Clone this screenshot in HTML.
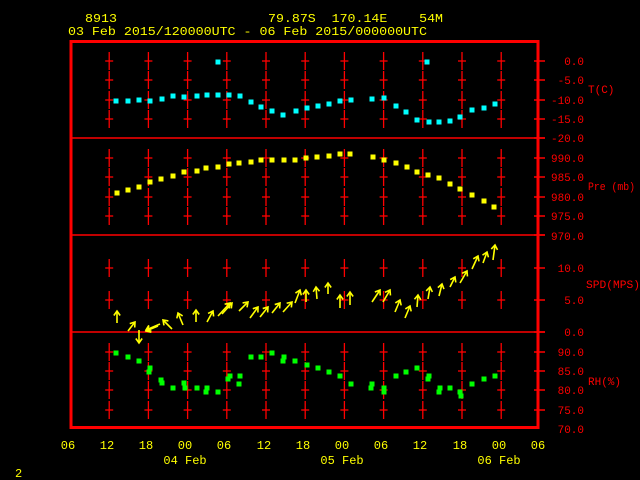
<!DOCTYPE html>
<html><head><meta charset="utf-8"><style>
html,body{margin:0;padding:0;background:#000;width:640px;height:480px;overflow:hidden}
svg{display:block}
text{font-family:"Liberation Mono","DejaVu Sans Mono",monospace;font-size:12px}
.y{fill:#ff0}.r{fill:#f00}
.r text{font-size:11px}
</style></head><body>
<svg id="s" width="640" height="480" viewBox="0 0 640 480" xmlns="http://www.w3.org/2000/svg">
<rect width="640" height="480" fill="#000"/>
<g id="grid"></g>
<rect x="71" y="41.5" width="467" height="386" fill="none" stroke="#f00" stroke-width="3"/>
<g stroke="#f00" stroke-width="1.5">
<line x1="71" y1="138" x2="545" y2="138"/>
<line x1="71" y1="235" x2="545" y2="235"/>
<line x1="71" y1="332" x2="545" y2="332"/>
</g>
<g id="data"></g>
<text class="y" x="85" y="22" textLength="32" lengthAdjust="spacingAndGlyphs">8913</text>
<text class="y" x="268" y="22" textLength="175" lengthAdjust="spacingAndGlyphs" xml:space="preserve">79.87S  170.14E    54M</text>
<text class="y" x="68" y="35" textLength="359" lengthAdjust="spacingAndGlyphs">03 Feb 2015/120000UTC - 06 Feb 2015/000000UTC</text>
<g class="r" text-anchor="end">
<text x="584" y="65">0.0</text><text x="584" y="84">-5.0</text><text x="584" y="104">-10.0</text><text x="584" y="123">-15.0</text><text x="584" y="142">-20.0</text>
<text x="584" y="162">990.0</text><text x="584" y="181">985.0</text><text x="584" y="201">980.0</text><text x="584" y="220">975.0</text><text x="584" y="240">970.0</text>
<text x="584" y="272">10.0</text><text x="584" y="304">5.0</text><text x="584" y="336">0.0</text>
<text x="584" y="356">90.0</text><text x="584" y="375">85.0</text><text x="584" y="394">80.0</text><text x="584" y="414">75.0</text><text x="584" y="433">70.0</text>
</g>
<g class="r">
<text x="588" y="93">T(C)</text>
<text x="588" y="190" textLength="47" lengthAdjust="spacingAndGlyphs">Pre (mb)</text>
<text x="586" y="288" textLength="54" lengthAdjust="spacingAndGlyphs">SPD(MPS)</text>
<text x="588" y="385">RH(%)</text>
</g>
<g class="y" text-anchor="middle">
<text x="68" y="449">06</text><text x="107" y="449">12</text><text x="146" y="449">18</text><text x="185" y="449">00</text><text x="224" y="449">06</text><text x="264" y="449">12</text><text x="303" y="449">18</text><text x="342" y="449">00</text><text x="381" y="449">06</text><text x="420" y="449">12</text><text x="460" y="449">18</text><text x="499" y="449">00</text><text x="538" y="449">06</text>
<text x="185" y="464">04 Feb</text><text x="342" y="464">05 Feb</text><text x="499" y="464">06 Feb</text>
</g>
<text class="y" x="15" y="477">2</text>
</svg>
<script>
var NS="http://www.w3.org/2000/svg";
function el(p,t,a){var e=document.createElementNS(NS,t);for(var k in a)e.setAttribute(k,a[k]);p.appendChild(e);return e;}
var g=document.getElementById('grid'),d=document.getElementById('data');
var xs=[];for(var i=1;i<=11;i++)xs.push(70+i*39.2);
var ys=[61,80,100,119,158,177,197,216,268,300,352,371,390,410];
xs.forEach(function(x){ys.forEach(function(y){
 el(g,'line',{x1:x,y1:y-9,x2:x,y2:y+9,stroke:'#f00','stroke-width':1.3});
 el(g,'line',{x1:x-4,y1:y,x2:x+4,y2:y,stroke:'#f00','stroke-width':1.3});
});});
ys.concat([138,235,332]).forEach(function(y){el(g,'line',{x1:534,y1:y,x2:545,y2:y,stroke:'#f00','stroke-width':1.5});});
function pts(a,c){for(var i=0;i<a.length;i+=2)el(d,'rect',{x:a[i]-2.5,y:a[i+1]-2.5,width:5,height:5,fill:c});}
pts([116,101,128,101,139,100,150,101,162,99,173,96,184,97,197,96,207,95,218,95,229,95,240,96,251,102,261,107,272,111,283,115,296,111,307,108,318,106,329,104,340,101,351,100,372,99,384,98,396,106,406,112,417,120,429,122,439,122,450,121,460,117,472,110,484,108,495,104,218,62,427,62],'#0ff');
pts([117,193,128,190,139,187,150,182,161,179,173,176,184,172,197,171,206,168,218,167,229,164,239,163,251,162,261,160,272,160,284,160,295,160,306,158,317,157,329,156,340,154,350,154,373,157,384,160,396,163,407,167,417,172,428,175,439,178,450,184,460,189,472,195,484,201,494,207],'#ff0');
pts([116,353,128,357,139,361,150,368,149,372,161,380,162,383,173,388,184,383,185,388,197,388,207,388,206,392,218,392,228,379,230,376,239,384,240,376,251,357,261,357,272,353,284,357,283,361,295,361,307,365,318,368,329,372,340,376,351,384,372,384,371,388,384,388,384,392,396,376,406,372,417,368,429,376,428,379,440,388,439,392,450,388,460,392,461,396,472,384,484,379,495,376],'#0f0');
var w=[117,323,117,311,128,331,135,322,139,330,139,343,160,324,146,330,158,326,146,331,172,329,163,320,183,325,178,313,196,322,196,310,207,322,213,311,218,316,230,303,222,314,232,303,239,311,248,302,250,318,258,307,260,317,268,307,272,313,280,303,283,312,292,302,295,303,300,290,306,302,306,290,317,299,316,287,328,294,328,283,340,308,340,295,350,305,350,292,372,302,380,290,383,302,390,290,395,312,400,300,405,318,410,306,417,307,418,295,428,299,430,287,439,296,442,284,450,287,455,277,460,283,467,271,472,269,478,256,483,263,487,252,493,260,495,245];
for(var i=0;i<w.length;i+=4){var x1=w[i],y1=w[i+1],x2=w[i+2],y2=w[i+3];
 var dx=x2-x1,dy=y2-y1,L=Math.hypot(dx,dy),ux=dx/L,uy=dy/L,h=4.5;
 el(d,'line',{x1:x1,y1:y1,x2:x2,y2:y2,stroke:'#ff0','stroke-width':1.6});
 var ax=x2-ux*h,ay=y2-uy*h;
 el(d,'polyline',{points:(ax-uy*h*0.7)+','+(ay+ux*h*0.7)+' '+x2+','+y2+' '+(ax+uy*h*0.7)+','+(ay-ux*h*0.7),fill:'none',stroke:'#ff0','stroke-width':1.6});
}
</script>
</body></html>
